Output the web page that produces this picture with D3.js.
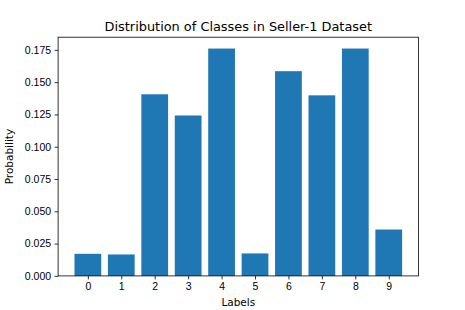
<!DOCTYPE html>
<html>
<head>
<meta charset="utf-8">
<script src="https://cdn.jsdelivr.net/npm/d3@7"></script>
<style>
  body { margin: 0; background: #fff; }
  svg { font-family: "DejaVu Sans", sans-serif; }
</style>
</head>
<body>
<svg id="chart" width="465" height="310"></svg>
<script>
// class labels and their share in the dataset
const labels = ['0', '1', '2', '3', '4', '5', '6', '7', '8', '9'];
const probs = [0.0171, 0.0166, 0.1406, 0.1242, 0.1760, 0.0174, 0.1585, 0.1398, 0.1760, 0.0359];
const yTicks = [0, 0.025, 0.05, 0.075, 0.1, 0.125, 0.15, 0.175];

const width = 465, height = 310;
const margin = { top: 37.2, right: 46.5, bottom: 34.1, left: 58.1 };
const innerW = width - margin.left - margin.right;
const innerH = height - margin.top - margin.bottom;

const svg = d3.select('#chart');
const g = svg.append('g').attr('transform', `translate(${margin.left},${margin.top})`);

// matplotlib-like limits: bars span i-0.4..i+0.4, plus 5% margin
const lo = -0.4, hi = labels.length - 1 + 0.4;
const pad = (hi - lo) * 0.05;
const x = d3.scaleLinear().domain([lo - pad, hi + pad]).range([0, innerW]);
const y = d3.scaleLinear().domain([0, d3.max(probs) * 1.05]).range([innerH, 0]);

g.selectAll('rect.bar')
  .data(probs)
  .enter()
  .append('rect')
  .attr('class', 'bar')
  .attr('x', (d, i) => x(i - 0.4))
  .attr('width', (d, i) => x(i + 0.4) - x(i - 0.4))
  .attr('y', d => y(d))
  .attr('height', d => innerH - y(d))
  .attr('fill', '#1f77b4');

const xAxis = d3.axisBottom(x)
  .tickValues(d3.range(labels.length))
  .tickFormat(i => labels[i])
  .tickSize(3.5)
  .tickPadding(3.5);

const yAxis = d3.axisLeft(y)
  .tickValues(yTicks)
  .tickFormat(d3.format('.3f'))
  .tickSize(3.5)
  .tickPadding(3.5);

const gx = g.append('g').attr('transform', `translate(0,${innerH})`).call(xAxis);
const gy = g.append('g').call(yAxis);

[gx, gy].forEach(a => {
  a.select('.domain').remove();
  a.selectAll('.tick line').attr('stroke', '#000').attr('stroke-width', 0.8);
  a.selectAll('.tick text').attr('fill', '#000').style('font-size', '10.5px');
});

// frame
g.append('rect')
  .attr('width', innerW)
  .attr('height', innerH)
  .attr('fill', 'none')
  .attr('stroke', '#000')
  .attr('stroke-width', 0.8);

svg.append('text')
  .attr('x', margin.left + innerW / 2)
  .attr('y', 31)
  .attr('text-anchor', 'middle')
  .style('font-size', '12.9px')
  .text('Distribution of Classes in Seller-1 Dataset');

svg.append('text')
  .attr('x', margin.left + innerW / 2)
  .attr('y', 305.5)
  .attr('text-anchor', 'middle')
  .style('font-size', '10.5px')
  .text('Labels');

svg.append('text')
  .attr('transform', `translate(12.5,${margin.top + innerH / 2}) rotate(-90)`)
  .attr('text-anchor', 'middle')
  .style('font-size', '10.5px')
  .text('Probability');
</script>
</body>
</html>
